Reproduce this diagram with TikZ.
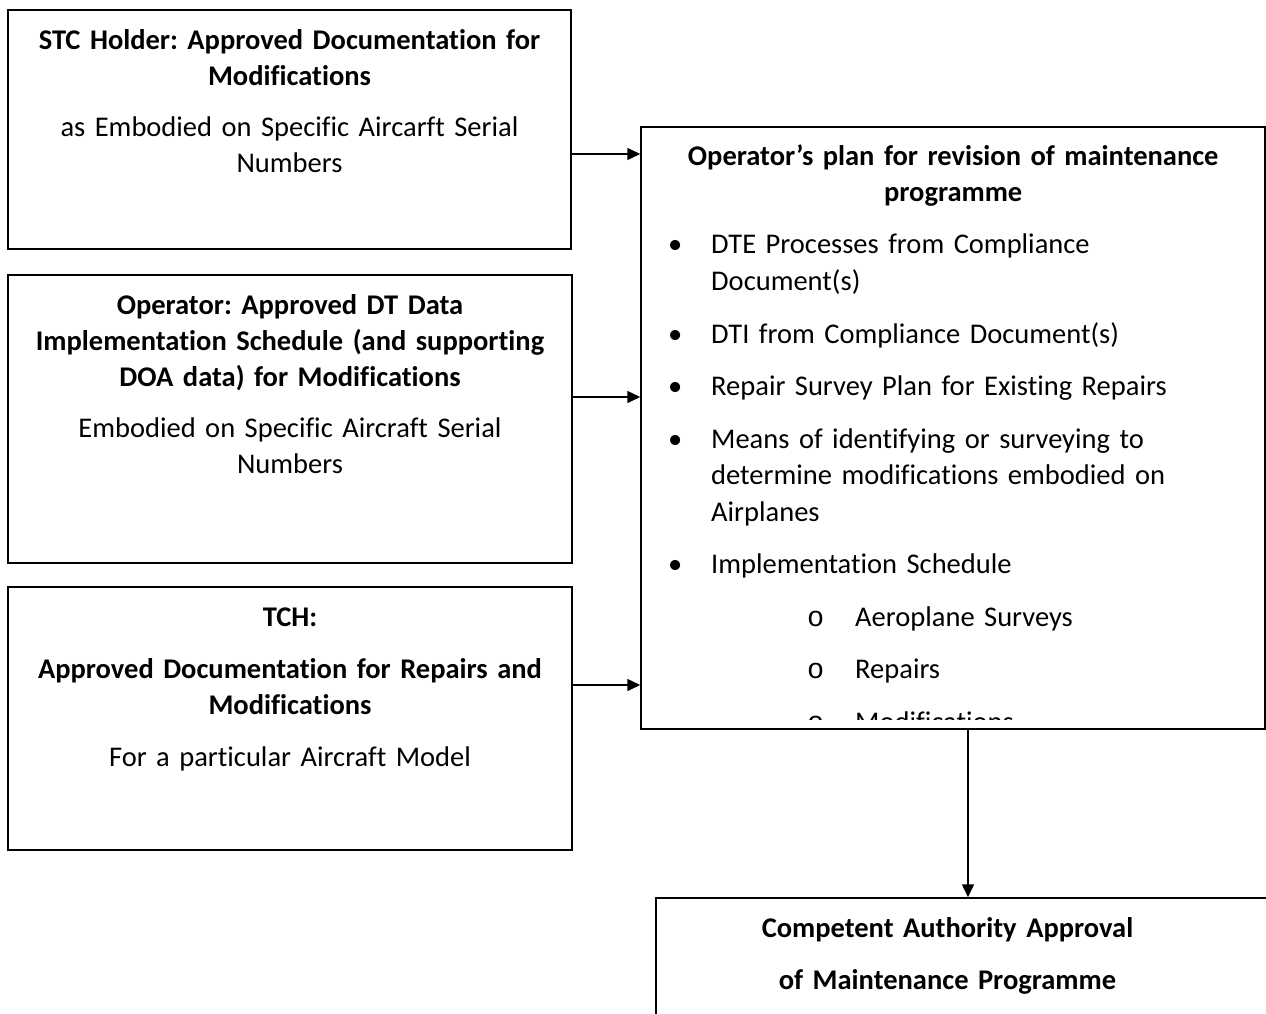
\documentclass[tikz,border=0pt]{standalone}
\usepackage{fontspec}
\setmainfont{Carlito}[Ligatures={TeX,NoCommon}]
\newfontfamily\ofont{Liberation Mono}
\usetikzlibrary{arrows.meta}
\frenchspacing

% list entries of the plan box
\newcommand{\bitem}[1]{\makebox[70pt][l]{\hspace{27pt}\textbullet}#1}
\newcommand{\bcont}[1]{\hspace*{70pt}#1}
\newcommand{\sitem}[1]{\makebox[214pt][l]{\hspace{166pt}{\ofont o}}#1}

\begin{document}
\begin{tikzpicture}[x=1pt, y=1pt,
    docbox/.style={rectangle, draw=black, line width=1.5pt, inner sep=0pt},
    doctext/.style={text width=#1, align=center, inner sep=0pt, anchor=base, font=\fontsize{28.5}{36}\selectfont},
    plantext/.style={text width=624pt, align=left, inner sep=0pt, anchor=base west, font=\fontsize{28.5}{36.5}\selectfont},
    link/.style={-{Triangle[length=13pt, width=12pt]}, line width=1.5pt}]
    \useasboundingbox (0,0) rectangle (1266,-1014);

    % Source documents
    \node[docbox, minimum width=563pt, minimum height=239pt] (stc) at (289.5,-129.5) {};
    \node[doctext=550pt] (stctxt) at (289.5,-49.5) {{\bfseries STC Holder: Approved Documentation for\\Modifications}\\[15pt]as Embodied on Specific Aircarft Serial\\Numbers};

    \node[docbox, minimum width=564pt, minimum height=288pt] (doa) at (290,-419) {};
    \node[doctext=550pt] (doatxt) at (290,-314.5) {{\bfseries Operator: Approved DT Data\\Implementation Schedule (and supporting\\DOA data) for Modifications}\\[15pt]Embodied on Specific Aircraft Serial\\Numbers};

    \node[docbox, minimum width=564pt, minimum height=263pt] (tch) at (290,-718.5) {};
    \node[doctext=550pt] (tchtxt) at (290,-626) {{\bfseries TCH:\\[16pt]Approved Documentation for Repairs and\\Modifications}\\[16pt]For a particular Aircraft Model};

    % Operator's plan
    \node[docbox, minimum width=624pt, minimum height=602pt] (plan) at (953,-428) {};
    \begin{scope}
        \clip (642,-128) rectangle (1264,-719);
        \node[plantext] (plantxt) at (641,-165) {%
            \makebox[624pt]{\bfseries Operator’s plan for revision of maintenance}\\
            \makebox[624pt]{\bfseries programme}\\[16pt]
            \bitem{DTE Processes from Compliance}\\
            \bcont{Document(s)}\\[16pt]
            \bitem{DTI from Compliance Document(s)}\\[16pt]
            \bitem{Repair Survey Plan for Existing Repairs}\\[16pt]
            \bitem{Means of identifying or surveying to}\\
            \bcont{determine modifications embodied on}\\
            \bcont{Airplanes}\\[16pt]
            \bitem{Implementation Schedule}\\[16pt]
            \sitem{Aeroplane Surveys}\\[16pt]
            \sitem{Repairs}\\[16pt]
            \sitem{Modifications}};
    \end{scope}

    % Approval
    \node[docbox, minimum width=634pt, minimum height=132pt] (approval) at (973,-964) {};
    \node[doctext=600pt] (approvaltxt) at (947.5,-937) {\bfseries Competent Authority Approval\\[16pt]of Maintenance Programme};

    % Connections
    \draw[link] ([yshift=-24.5pt]stc.east) -- ([yshift=-24.5pt]stc.east -| plan.west);
    \draw[link] ([yshift=22pt]doa.east) -- ([yshift=22pt]doa.east -| plan.west);
    \draw[link] ([yshift=33.5pt]tch.east) -- ([yshift=33.5pt]tch.east -| plan.west);
    \draw[link] ([xshift=15pt]plan.south) -- ([xshift=15pt]plan.south |- approval.north);
\end{tikzpicture}
\end{document}
